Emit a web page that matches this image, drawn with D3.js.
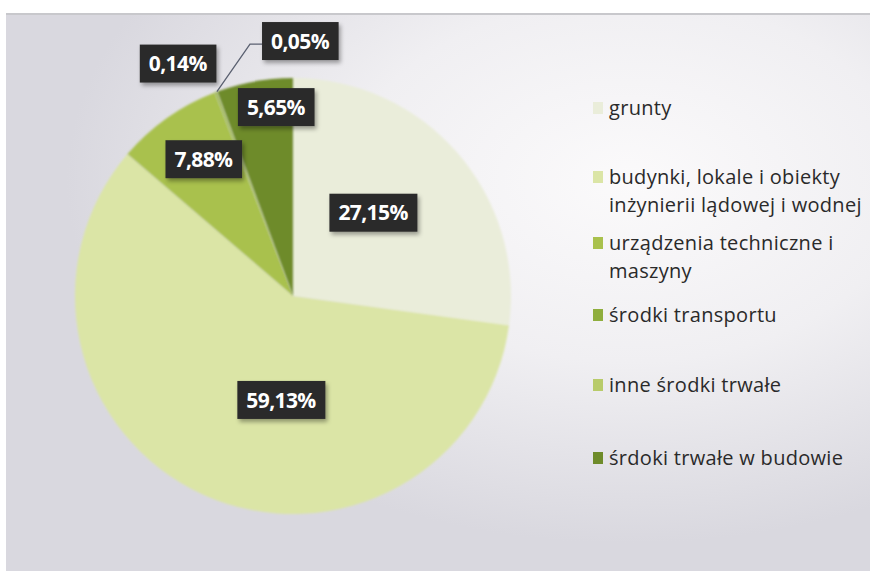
<!DOCTYPE html>
<html>
<head>
<meta charset="utf-8">
<script src="https://cdn.jsdelivr.net/npm/d3@7"></script>
<style>
  body { margin: 0; background: #fff; }
  svg { display: block; }
</style>
</head>
<body>
<div id="chart"></div>
<script>
// data
var categories = ["grunty", "budynki, lokale i obiekty|inżynierii lądowej i wodnej", "urządzenia techniczne i|maszyny", "środki transportu", "inne środki trwałe", "śrdoki trwałe w budowie"]
var values = [27.15, 59.13, 7.88, 0.14, 0.05, 5.65]
var valueLabels = ["27,15%", "59,13%", "7,88%", "0,14%", "0,05%", "5,65%"]
var colors = ["#eaedda", "#dbe5a6", "#a9c14d", "#8fae3d", "#b8cb6a", "#6e8b2a"]

// label placement: radius factor and angle nudge (deg) from slice middle
var labelRadius = [0.53, 0.48, 0.75, 1.19, 1.17, 0.87]
var labelShift = [-5, -17.6, 2, -5.6, 22, 5]

var width = 870,
    height = 571,
    cx = 293,
    cy = 296,
    radius = 218

var svg = d3.select("#chart")
  .append("svg")
    .attr("width", width)
    .attr("height", height)

var defs = svg.append("defs")
var bg = defs.append("radialGradient")
  .attr("id", "bggrad")
  .attr("cx", "0.72").attr("cy", "0.3").attr("r", "0.65")
bg.append("stop").attr("offset", "0%").attr("stop-color", "#fbfafb")
bg.append("stop").attr("offset", "50%").attr("stop-color", "#f0eff2")
bg.append("stop").attr("offset", "100%").attr("stop-color", "#d9d8df")

var shadow = defs.append("filter").attr("id", "shadow")
  .attr("x", "-20%").attr("y", "-20%").attr("width", "140%").attr("height", "160%")
shadow.append("feDropShadow")
  .attr("dx", 2).attr("dy", 3).attr("stdDeviation", 2)
  .attr("flood-color", "#000").attr("flood-opacity", 0.35)

var soft = defs.append("filter").attr("id", "soft")
soft.append("feGaussianBlur").attr("stdDeviation", 1)

// page background (scanned sheet)
svg.append("rect")
  .attr("x", 6).attr("y", 14)
  .attr("width", width - 6).attr("height", height - 14)
  .attr("fill", "url(#bggrad)")
svg.append("line")
  .attr("x1", 6).attr("x2", width).attr("y1", 14).attr("y2", 14)
  .attr("stroke", "#c8c8cc").attr("stroke-width", 2)

var g = svg.append("g")
  .attr("transform", "translate(" + cx + "," + cy + ")")

var pie = d3.pie().sort(null).value(function(d) { return d })
var arcs = pie(values)

var arc = d3.arc().innerRadius(0).outerRadius(radius)

g.selectAll("path.slice")
  .data(arcs)
  .enter()
  .append("path")
  .attr("class", "slice")
  .attr("d", arc)
  .attr("fill", function(d, i) { return colors[i] })
  .attr("filter", "url(#soft)")

function labelPoint(d, i) {
  var a = (d.startAngle + d.endAngle) / 2 + labelShift[i] * Math.PI / 180
  var r = radius * labelRadius[i]
  return [r * Math.sin(a), -r * Math.cos(a)]
}

// leader line for the tiny 0,05% slice
var inne = arcs[4]
var mid = (inne.startAngle + inne.endAngle) / 2
var lp = labelPoint(inne, 4)
g.append("polyline")
  .attr("points", [
    [radius * Math.sin(mid), -radius * Math.cos(mid)],
    [lp[0] - 50, lp[1] + 3],
    [lp[0] - 38, lp[1] + 3]
  ].join(" "))
  .attr("fill", "none")
  .attr("stroke", "#5a6070")
  .attr("stroke-width", 1.3)

var labels = g.selectAll("g.lbl")
  .data(arcs)
  .enter()
  .append("g")
  .attr("class", "lbl")
  .attr("transform", function(d, i) { return "translate(" + labelPoint(d, i) + ")" })

labels.append("text")
  .attr("text-anchor", "middle")
  .attr("dy", "0.36em")
  .style("font-family", "'Open Sans', sans-serif")
  .style("font-weight", "700")
  .style("font-size", "21px")
  .style("letter-spacing", "-0.6px")
  .attr("fill", "#fff")
  .text(function(d, i) { return valueLabels[i] })

labels.each(function() {
  var el = d3.select(this)
  var bb = el.select("text").node().getBBox()
  el.insert("rect", "text")
    .attr("x", bb.x - 9).attr("y", -19)
    .attr("width", bb.width + 18).attr("height", 38)
    .attr("fill", "#2b2b2b")
    .attr("filter", "url(#shadow)")
})

// legend
var legendY = [108, 191, 257, 315, 385, 458]
var legend = svg.selectAll("g.leg")
  .data(categories)
  .enter()
  .append("g")
  .attr("class", "leg")
  .attr("transform", function(d, i) { return "translate(593," + legendY[i] + ")" })

legend.append("rect")
  .attr("x", 0)
  .attr("y", function(d) { return d.indexOf("|") >= 0 ? -20 : -6 })
  .attr("width", 10).attr("height", 12)
  .attr("fill", function(d, i) { return colors[i] })

legend.append("text")
  .attr("x", 16)
  .style("font-family", "'Open Sans', sans-serif")
  .style("font-size", "20px")
  .style("letter-spacing", "0.3px")
  .attr("fill", "#2a2a2a")
  .each(function(d) {
    var lines = d.split("|")
    var t = d3.select(this)
    var start = lines.length > 1 ? -14 : 0
    lines.forEach(function(line, k) {
      t.append("tspan")
        .attr("x", 16)
        .attr("y", start + k * 28)
        .attr("dy", "0.35em")
        .text(line)
    })
  })
</script>
</body>
</html>
